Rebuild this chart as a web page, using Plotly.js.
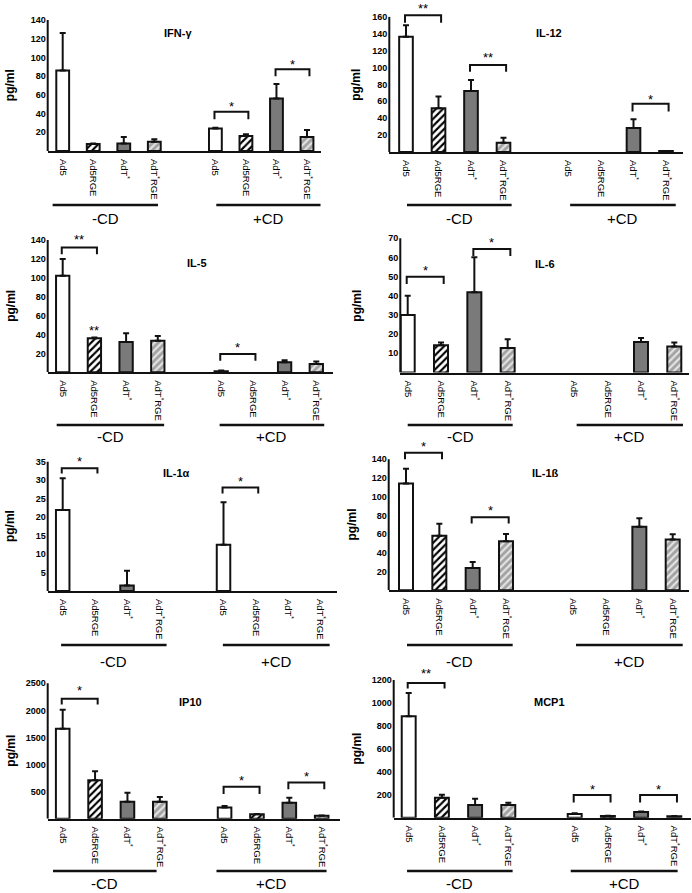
<!DOCTYPE html>
<html><head><meta charset="utf-8">
<script src="https://cdn.plot.ly/plotly-3.0.1.min.js"></script>
<style>html,body{margin:0;padding:0;background:#fff}#chart{width:692px;height:893px}</style>
</head><body><div id="chart"></div>
<script>
// ---------- DATA ----------
const viruses = ['Ad5', 'Ad5RGE', 'AdT<sup>*</sup>', 'AdT<sup>*</sup>RGE'];
const groups = ['-CD', '+CD'];
const panelTitles = ['IFN-γ', 'IL-12', 'IL-5', 'IL-6', 'IL-1α', 'IL-1ß', 'IP10', 'MCP1'];
const yUnit = 'pg/ml';

// values: 4 viruses -CD, then 4 viruses +CD ; errors = upper error bar length (null = none)
const ifnValues  = [86, 7.5, 8, 10, 24, 16, 56, 15];
const ifnErrors  = [40, 0.5, 7, 2.5, 0.8, 1.8, 15.5, 7.5];
const il12Values = [136.5, 51.7, 72.2, 11, 0, 0, 28.4, 1.2];
const il12Errors = [13.5, 14, 13, 6, null, null, 10.3, null];
const il5Values  = [102.3, 36, 32, 33.5, 1, 0, 10.6, 8.8];
const il5Errors  = [17.7, 0.7, 9.3, 4.9, 0.8, null, 2.1, 2.5];
const il6Values  = [30, 14.2, 41.8, 12.8, 0, 0, 15.9, 13.5];
const il6Errors  = [10.1, 1.4, 18.3, 4.5, null, null, 2.1, 2.1];
const il1aValues = [21.9, 0, 1.5, 0, 12.5, 0, 0, 0];
const il1aErrors = [8.6, null, 4, null, 11.5, null, null, null];
const il1bValues = [114.2, 58.4, 23.8, 52.3, 0, 0, 68, 54.4];
const il1bErrors = [15.8, 12.8, 6.4, 7.8, null, null, 8.9, 5.4];
const ip10Values = [1663, 712, 313, 313, 209, 80, 294, 55];
const ip10Errors = [349, 165, 166, 86, 24, 6, 93, 6];
const mcp1Values = [884, 174, 110, 110, 32, 14.5, 49, 11.6];
const mcp1Errors = [203, 26, 55, 20, 6, 2.5, 6, 3];

const ifnTicks  = [20, 40, 60, 80, 100, 120, 140];
const il12Ticks = [20, 40, 60, 80, 100, 120, 140, 160];
const il5Ticks  = [20, 40, 60, 80, 100, 120, 140];
const il6Ticks  = [10, 20, 30, 40, 50, 60, 70];
const il1aTicks = [5, 10, 15, 20, 25, 30, 35];
const il1bTicks = [20, 40, 60, 80, 100, 120, 140];
const ip10Ticks = [500, 1000, 1500, 2000, 2500];
const mcp1Ticks = [200, 400, 600, 800, 1000, 1200];

// significance brackets: [bar i, bar j, bracket top, bracket end, label, label y]
const ifnSig  = [[4, 5, 42, 33.8, '*', 51], [6, 7, 87.5, 80, '*', 96]];
const il12Sig = [[0, 1, 162, 153, '**', 174], [2, 3, 103, 95, '**', 115], [6, 7, 57, 48, '*', 65.5]];
const il5Sig  = [[0, 1, 132, 125, '**', 143.5], [4, 5, 19.4, 12.3, '*', 29], [1, 1, null, null, '**', 47.6]];
const il6Sig  = [[0, 1, 50, 46.2, '*', 54.7], [2, 3, 64.4, 60.8, '*', 69.5]];
const il1aSig = [[0, 1, 33.2, 31.8, '*', 35.9], [4, 5, 28, 26.4, '*', 30.5]];
const il1bSig = [[0, 1, 147, 140, '*', 157], [2, 3, 78, 71.5, '*', 88.3]];
const ip10Sig = [[0, 1, 2215, 2110, '*', 2417], [4, 5, 589, 454, '*', 755], [6, 7, 669, 546, '*', 834]];
const mcp1Sig = [[0, 1, 1174, 1125, '**', 1284], [4, 5, 197, 133, '*', 270], [6, 7, 197, 133, '*', 270]];

const series = [
  [ifnValues, ifnErrors, ifnTicks, ifnSig],
  [il12Values, il12Errors, il12Ticks, il12Sig],
  [il5Values, il5Errors, il5Ticks, il5Sig],
  [il6Values, il6Errors, il6Ticks, il6Sig],
  [il1aValues, il1aErrors, il1aTicks, il1aSig],
  [il1bValues, il1bErrors, il1bTicks, il1bSig],
  [ip10Values, ip10Errors, ip10Ticks, ip10Sig],
  [mcp1Values, mcp1Errors, mcp1Ticks, mcp1Sig]
];

// ---------- LAYOUT GEOMETRY (pixels) ----------
const W = 692, H = 893;
const geom = [
  {L:47.7, E:320.5, c0:62.7, c8:307,   t:20,    b:151,   R:142,  ul:[[-0.33,3.12],[5.03,8.46]], ulY:205, lblY:218, pg:-37, title:[178,33]},
  {L:389.3,E:682.7, c0:406,  c8:666,   t:16.7,  b:152,   R:180,  ul:[[0.03,3.25],[5.05,8.3]],   ulY:205, lblY:218, pg:-33, title:[549,33]},
  {L:47.7, E:332.7, c0:62.7, c8:316.3, t:240,   b:372.3, R:150,  ul:[[-0.19,3.2],[4.95,8.25]],  ulY:425, lblY:437, pg:-37, title:[197,263]},
  {L:400.3,E:689.3, c0:407.7,c8:674.3, t:238.3, b:372.5, R:72,   ul:[[0,3.15],[5.07,8.26]],     ulY:425, lblY:437, pg:-43, title:[545,264]},
  {L:47.7, E:336.7, c0:62.7, c8:320,   t:461.7, b:591,   R:37.5, ul:[[-0.05,3.23],[4.98,8.3]],  ulY:645, lblY:661, pg:-37, title:[176,473]},
  {L:388.7,E:689,   c0:406,  c8:672.7, t:459.3, b:590.3, R:162,  ul:[[0.03,3.2],[5.1,8.3]],     ulY:645, lblY:661, pg:-37, title:[545,473]},
  {L:47.7, E:340,   c0:62.7, c8:321.7, t:683.3, b:818.7, R:2520, ul:[[-0.3,2.9],[4.75,8.15]],   ulY:871, lblY:883, pg:-37, title:[190,702]},
  {L:393.7,E:691,   c0:408.7,c8:674.3, t:680,   b:817.7, R:1310, ul:[[-0.05,3.13],[4.88,8.1]],  ulY:871, lblY:883, pg:-37, title:[549,702]}
];
const positions = [0, 1, 2, 3, 5, 6, 7, 8];
const FONT = 'Liberation Sans, Arial, sans-serif';
const INK = '#111';

const fillColor = ['#ffffff', '#ffffff', '#7a7a7a', '#a2a2a2'];
const patShape  = ['', '/', '', '/'];
const patFg     = ['#000000', '#000000', '#000000', '#e4e4e4'];

const data = [];
const layout = {
  width: W, height: H, margin: {l: 0, r: 0, t: 0, b: 0},
  paper_bgcolor: '#fff', plot_bgcolor: 'rgba(0,0,0,0)',
  showlegend: false, hovermode: false, bargap: 0, barmode: 'overlay',
  font: {family: FONT, color: INK},
  shapes: [], annotations: []
};

series.forEach(function (s, k) {
  const vals = s[0], errs = s[1], ticks = s[2], sig = s[3];
  const g = geom[k];
  const n = k + 1;
  const xa = 'x' + (n === 1 ? '' : n), ya = 'y' + (n === 1 ? '' : n);
  const topTick = ticks[ticks.length - 1];
  const sx = (g.c8 - g.c0) / 8;
  const ppu = (g.b - g.t) / topTick;
  const topPx = g.b - g.R * ppu;

  // one trace per virus (-CD and +CD points)
  for (let v = 0; v < 4; v++) {
    const idx = [v, v + 4];
    const yv = idx.map(i => vals[i]);
    const ev = idx.map(i => (errs[i] === null ? NaN : errs[i]));   // NaN = no error bar drawn
    const marker = {
      color: fillColor[v],
      line: {color: INK, width: yv.map(y => (y > 0 ? 2 : 0))}
    };
    if (patShape[v]) {
      marker.pattern = {shape: patShape[v], bgcolor: fillColor[v], fgcolor: patFg[v],
        size: 5, solidity: 0.42, fillmode: 'replace'};
    }
    data.push({
      type: 'bar', x: idx.map(i => positions[i]), y: yv, width: 0.42,
      xaxis: xa, yaxis: ya, marker: marker,
      error_y: {type: 'data', symmetric: false, array: ev, arrayminus: ev.map(e => (isNaN(e) ? NaN : 0)),
        color: INK, thickness: 2, width: 3}
    });
  }

  layout['xaxis' + (n === 1 ? '' : n)] = {
    domain: [g.L / W, g.E / W], anchor: ya,
    range: [(g.L - g.c0) / sx, (g.E - g.c0) / sx],
    tickvals: positions, ticktext: positions.map((p, i) => viruses[i % 4]),
    tickangle: 90, ticks: '', ticklabelstandoff: 4,
    tickfont: {size: 9.5, family: FONT, color: '#000'},
    showline: true, linewidth: 2, linecolor: INK,
    showgrid: false, zeroline: false, fixedrange: true
  };
  layout['yaxis' + (n === 1 ? '' : n)] = {
    domain: [1 - g.b / H, 1 - topPx / H], anchor: xa,
    range: [0, g.R], tickvals: ticks, ticks: '', ticklabelstandoff: 1,
    tickfont: {size: 9, family: FONT, color: '#000', weight: 'bold'},
    showline: false, showgrid: false, zeroline: false, fixedrange: true
  };

  // y axis line from 0 to top tick
  layout.shapes.push({type: 'line', xref: xa + ' domain', yref: ya, x0: 0, x1: 0, y0: 0, y1: topTick,
    line: {color: INK, width: 2}});

  // significance brackets and stars
  sig.forEach(function (b) {
    const xi = positions[b[0]], xj = positions[b[1]];
    if (b[2] !== null) {
      const x0 = xi - 0.03, x1 = xj + 0.08;
      layout.shapes.push({type: 'path', xref: xa, yref: ya,
        path: 'M' + x0 + ',' + b[3] + ' L' + x0 + ',' + b[2] + ' L' + x1 + ',' + b[2] + ' L' + x1 + ',' + b[3],
        line: {color: INK, width: 2}});
    }
    layout.annotations.push({xref: xa, yref: ya, x: (b[2] !== null ? (xi + xj + 0.05) / 2 : xi), y: b[5],
      text: b[4], showarrow: false, yshift: -3, font: {size: 13, family: FONT, color: '#000'}});
  });

  // group underlines and labels
  g.ul.forEach(function (u, gi) {
    layout.shapes.push({type: 'line', xref: xa, yref: 'paper', x0: u[0], x1: u[1],
      y0: 1 - g.ulY / H, y1: 1 - g.ulY / H, line: {color: INK, width: 2.5}});
    layout.annotations.push({xref: xa, yref: 'paper', x: (u[0] + u[1]) / 2, y: 1 - g.lblY / H,
      text: groups[gi], showarrow: false, yanchor: 'middle', font: {size: 15, family: FONT, color: '#000'}});
  });

  // panel title
  layout.annotations.push({xref: 'paper', yref: 'paper', x: g.title[0] / W, y: 1 - g.title[1] / H,
    text: '<b>' + panelTitles[k] + '</b>', showarrow: false, xanchor: 'center', yanchor: 'middle',
    font: {size: 11, family: FONT, color: '#000'}});

  // y axis unit label
  layout.annotations.push({xref: xa + ' domain', yref: ya, x: 0, y: topTick / 2, xshift: g.pg,
    text: '<b>' + yUnit + '</b>', textangle: -90, showarrow: false, xanchor: 'center', yanchor: 'middle',
    font: {size: 12, family: FONT, color: '#000'}});
});

Plotly.newPlot('chart', data, layout, {staticPlot: true, displayModeBar: false});
</script>
</body></html>
